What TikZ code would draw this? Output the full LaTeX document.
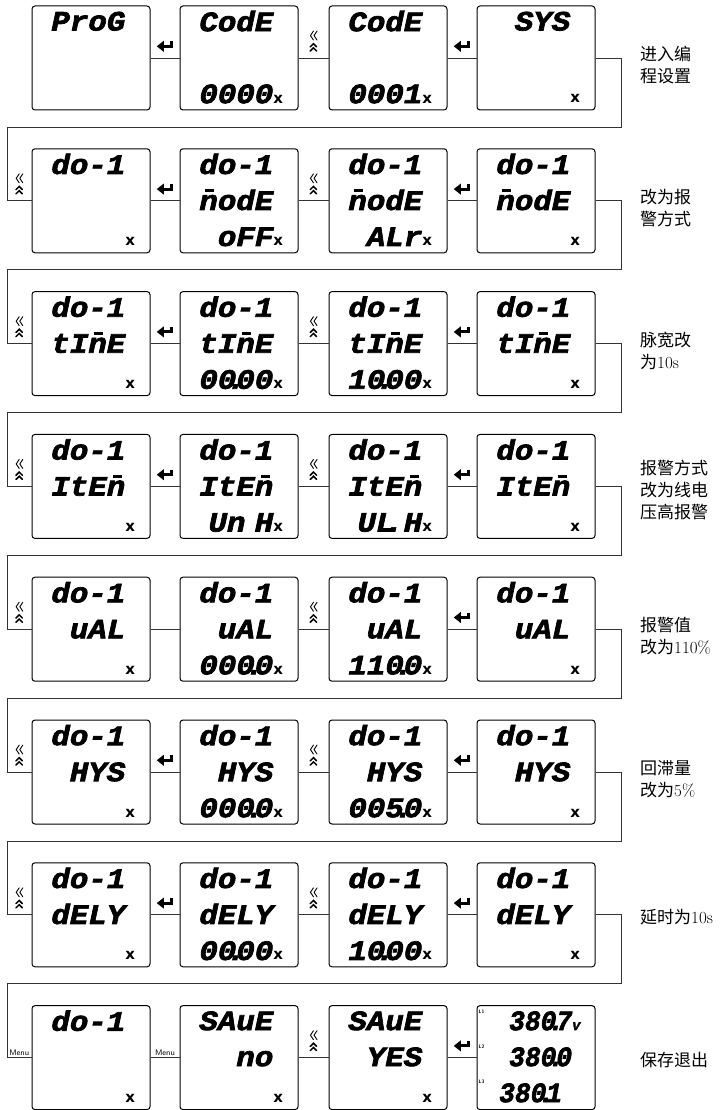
\documentclass[tikz,border=0pt]{standalone}
\usepackage{fontspec}
\usepackage{graphicx}
\usepackage{tikz}
\usetikzlibrary{calc}

\newfontfamily\lcdfont{Liberation Mono}[FakeStretch=1.1, FakeBold=2.5]
\newfontfamily\symfont{DejaVu Sans}
\newfontfamily\cjk{Noto Sans CJK SC}

\newcommand{\mk}{{\symfont\bfseries\upshape\fontsize{15}{15}\selectfont x}}
\newcommand{\nomk}{\phantom{\mk}}
\newcommand{\dotp}{\hbox to 0pt{\hss.\hss}}
\newcommand{\nbar}{\makebox[0pt][l]{\hspace{6pt}\rule[18pt]{9pt}{2.6pt}}n}
\newcommand{\lcdstrut}{\rule[-2pt]{0pt}{21pt}}
\newcommand{\enter}{\tikz[x=1pt,y=1pt]{\draw[line width=3pt] (15,8) -- (15,3) -- (5,3);
		\fill (0,3) -- (7,8.5) -- (7,-2.5) -- cycle;}}
\newcommand{\chev}{\tikz[x=1pt,y=1pt,line cap=round]{
		\draw[line width=0.9pt] (3.6,21) -- (0.6,16.5) -- (3.6,12) (7.2,21) -- (4.2,16.5) -- (7.2,12);
		\draw[line width=1.5pt] (0.4,5.2) -- (3.6,8.4) -- (6.8,5.2) (0.4,1) -- (3.6,4.2) -- (6.8,1);}}
\newcommand{\volt}[1]{\scalebox{.85}[1]{#1}}

\tikzset{
	screen/.style={draw=black, line width=1pt, rounded corners=3pt, minimum width=118pt, minimum height=104pt,
		inner sep=0pt, text width=88pt, align=right, font=\lcdfont\bfseries\itshape\fontsize{28}{36}\selectfont,
		execute at begin node={\exhyphenpenalty=10000\lcdstrut}, execute at end node=\lcdstrut},
	wire/.style={draw=black!80, line width=0.8pt},
	icon/.style={inner sep=0pt, above=6pt},
	menu/.style={font=\sffamily\fontsize{8}{8}\selectfont, inner sep=1.5pt, above},
	tag/.style={font=\sffamily\bfseries\fontsize{5}{5}\selectfont, inner sep=0pt},
	note/.style={anchor=west, align=left, inner sep=0pt, font=\cjk\fontsize{17}{22}\selectfont}
}

\begin{document}
\begin{tikzpicture}[x=1pt,y=-1pt]
	\useasboundingbox (0,0) rectangle (721,1110);

	% row 1: prog
	\node[screen] (p1) at (91,58)      {ProG\nomk\\\nomk\\\nomk};
	\node[screen] (p2) at (239,58)     {CodE\nomk\\\nomk\\0000\mk};
	\node[screen] (p3) at (388,58)     {CodE\nomk\\\nomk\\0001\mk};
	\node[screen] (p4) at (536,58)     {SYS\nomk\\\nomk\\\mk};

	% row 2: mode
	\node[screen] (m1) at (91,200.8)   {do-1\nomk\\\nomk\\\mk};
	\node[screen] (m2) at (239,200.8)  {do-1\nomk\\\nbar odE\nomk\\oFF\mk};
	\node[screen] (m3) at (388,200.8)  {do-1\nomk\\\nbar odE\nomk\\ALr\mk};
	\node[screen] (m4) at (536,200.8)  {do-1\nomk\\\nbar odE\nomk\\\mk};

	% row 3: time
	\node[screen] (t1) at (91,343.6)   {do-1\nomk\\tI\nbar E\nomk\\\mk};
	\node[screen] (t2) at (239,343.6)  {do-1\nomk\\tI\nbar E\nomk\\00\dotp00\mk};
	\node[screen] (t3) at (388,343.6)  {do-1\nomk\\tI\nbar E\nomk\\10\dotp00\mk};
	\node[screen] (t4) at (536,343.6)  {do-1\nomk\\tI\nbar E\nomk\\\mk};

	% row 4: item
	\node[screen] (i1) at (91,486.4)   {do-1\nomk\\ItE\nbar\nomk\\\mk};
	\node[screen] (i2) at (239,486.4)  {do-1\nomk\\ItE\nbar\nomk\\Un~H\mk};
	\node[screen] (i3) at (388,486.4)  {do-1\nomk\\ItE\nbar\nomk\\UL\dotp{}~H\mk};
	\node[screen] (i4) at (536,486.4)  {do-1\nomk\\ItE\nbar\nomk\\\mk};

	% row 5: value
	\node[screen] (v1) at (91,629.2)   {do-1\nomk\\uAL\nomk\\\mk};
	\node[screen] (v2) at (239,629.2)  {do-1\nomk\\uAL\nomk\\000\dotp0\mk};
	\node[screen] (v3) at (388,629.2)  {do-1\nomk\\uAL\nomk\\110\dotp0\mk};
	\node[screen] (v4) at (536,629.2)  {do-1\nomk\\uAL\nomk\\\mk};

	% row 6: hys
	\node[screen] (h1) at (91,772)     {do-1\nomk\\HYS\nomk\\\mk};
	\node[screen] (h2) at (239,772)    {do-1\nomk\\HYS\nomk\\000\dotp0\mk};
	\node[screen] (h3) at (388,772)    {do-1\nomk\\HYS\nomk\\005\dotp0\mk};
	\node[screen] (h4) at (536,772)    {do-1\nomk\\HYS\nomk\\\mk};

	% row 7: delay
	\node[screen] (d1) at (91,914.8)   {do-1\nomk\\dELY\nomk\\\mk};
	\node[screen] (d2) at (239,914.8)  {do-1\nomk\\dELY\nomk\\00\dotp00\mk};
	\node[screen] (d3) at (388,914.8)  {do-1\nomk\\dELY\nomk\\10\dotp00\mk};
	\node[screen] (d4) at (536,914.8)  {do-1\nomk\\dELY\nomk\\\mk};

	% row 8: save
	\node[screen] (s1) at (91,1057.6)  {do-1\nomk\\\nomk\\\mk};
	\node[screen] (s2) at (239,1057.6) {SAuE\nomk\\no\nomk\\\mk};
	\node[screen] (s3) at (388,1057.6) {SAuE\nomk\\YES\nomk\\\mk};
	\node[screen] (s4) at (536,1057.6) {\volt{380\dotp7}{\fontsize{12}{12}\selectfont V}\hspace*{10pt}\\
		\volt{380\dotp0}\phantom{\fontsize{12}{12}\selectfont V}\hspace*{10pt}\\
		\volt{380\dotp1}\phantom{\fontsize{12}{12}\selectfont V}\hspace*{10pt}};
	\node[tag] (l1) at ($(s4.north west)+(5,7)$)  {L1};
	\node[tag] (l2) at ($(s4.north west)+(5,42)$) {L2};
	\node[tag] (l3) at ($(s4.north west)+(5,77)$) {L3};

	% turns between rows
	\coordinate (k1r) at (621,127);   \coordinate (k1l) at (7,127);
	\coordinate (k2r) at (621,269.8); \coordinate (k2l) at (7,269.8);
	\coordinate (k3r) at (621,412.6); \coordinate (k3l) at (7,412.6);
	\coordinate (k4r) at (621,555.4); \coordinate (k4l) at (7,555.4);
	\coordinate (k5r) at (621,698.2); \coordinate (k5l) at (7,698.2);
	\coordinate (k6r) at (621,841);   \coordinate (k6l) at (7,841);
	\coordinate (k7r) at (621,983.8); \coordinate (k7l) at (7,983.8);

	\path[wire] (p1) edge node[icon]{\enter} (p2);
	\path[wire] (p2) edge node[icon]{\chev} (p3);
	\path[wire] (p3) edge node[icon]{\enter} (p4);
	\draw[wire] (p4) -| (k1r) -- (k1l) |- (m1) node[pos=0.75,icon]{\chev};

	\path[wire] (m1) edge node[icon]{\enter} (m2);
	\path[wire] (m2) edge node[icon]{\chev} (m3);
	\path[wire] (m3) edge node[icon]{\enter} (m4);
	\draw[wire] (m4) -| (k2r) -- (k2l) |- (t1) node[pos=0.75,icon]{\chev};

	\path[wire] (t1) edge node[icon]{\enter} (t2);
	\path[wire] (t2) edge node[icon]{\chev} (t3);
	\path[wire] (t3) edge node[icon]{\enter} (t4);
	\draw[wire] (t4) -| (k3r) -- (k3l) |- (i1) node[pos=0.75,icon]{\chev};

	\path[wire] (i1) edge node[icon]{\enter} (i2);
	\path[wire] (i2) edge node[icon]{\chev} (i3);
	\path[wire] (i3) edge node[icon]{\enter} (i4);
	\draw[wire] (i4) -| (k4r) -- (k4l) |- (v1) node[pos=0.75,icon]{\chev};

	\path[wire] (v1) edge (v2);
	\path[wire] (v2) edge node[icon]{\chev} (v3);
	\path[wire] (v3) edge node[icon]{\enter} (v4);
	\draw[wire] (v4) -| (k5r) -- (k5l) |- (h1) node[pos=0.75,icon]{\chev};

	\path[wire] (h1) edge node[icon]{\enter} (h2);
	\path[wire] (h2) edge node[icon]{\chev} (h3);
	\path[wire] (h3) edge node[icon]{\enter} (h4);
	\draw[wire] (h4) -| (k6r) -- (k6l) |- (d1) node[pos=0.75,icon]{\chev};

	\path[wire] (d1) edge node[icon]{\enter} (d2);
	\path[wire] (d2) edge node[icon]{\chev} (d3);
	\path[wire] (d3) edge node[icon]{\enter} (d4);
	\draw[wire] (d4) -| (k7r) -- (k7l) |- (s1) node[pos=0.75,menu]{Menu};

	\path[wire] (s1) edge node[menu]{Menu} (s2);
	\path[wire] (s2) edge node[icon]{\chev} (s3);
	\path[wire] (s3) edge node[icon]{\enter} (s4);

	% notes on the right
	\node[note] (n1) at (640,65)     {进入编\\程设置};
	\node[note] (n2) at (640,207.8)  {改为报\\警方式};
	\node[note] (n3) at (640,350.6)  {脉宽改\\为{\rmfamily 10s}};
	\node[note] (n4) at (640,490.4)  {报警方式\\改为线电\\压高报警};
	\node[note] (n5) at (640,636.2)  {报警值\\改为{\rmfamily 110\%}};
	\node[note] (n6) at (640,779)    {回滞量\\改为{\rmfamily 5\%}};
	\node[note] (n7) at (640,916.8)  {延时为{\rmfamily 10s}};
	\node[note] (n8) at (640,1059.6) {保存退出};
\end{tikzpicture}
\end{document}
